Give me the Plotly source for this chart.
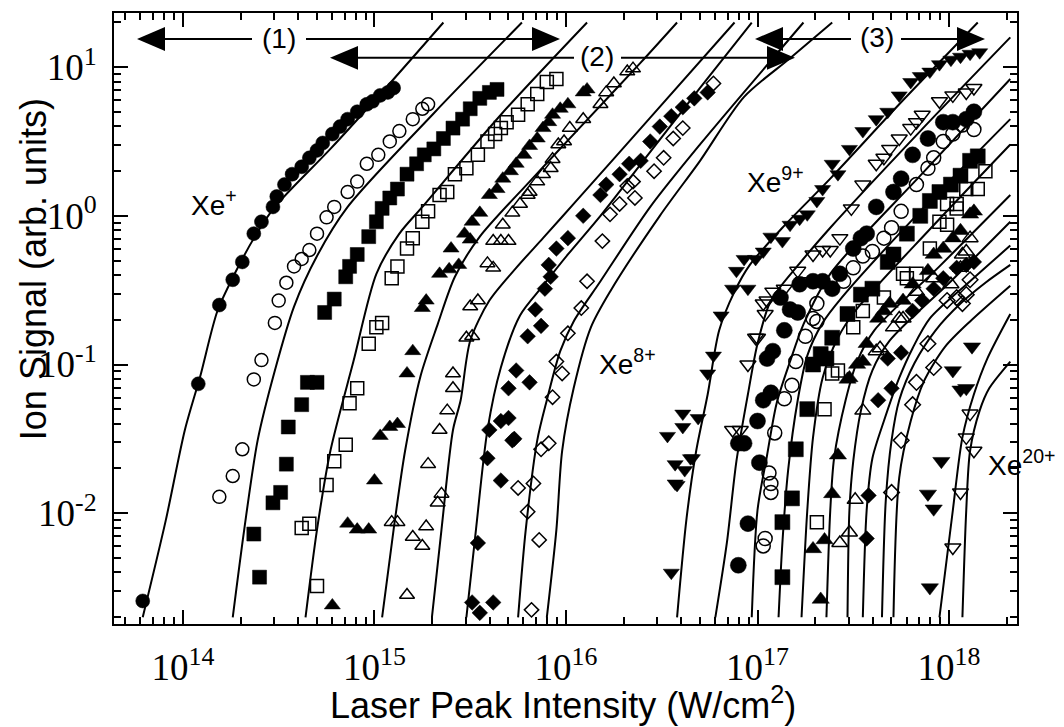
import numpy as np
import plotly.graph_objects as go

# ---------------- measured ion yields ----------------
# values are log10(laser peak intensity / W cm^-2) and log10(ion signal / arb. units)
xe1_logI = [13.79, 14.08, 14.19, 14.26, 14.31, 14.37, 14.41, 14.47, 14.49, 14.53, 14.57, 14.62, 14.66, 14.70, 14.73, 14.78, 14.82, 14.86, 14.91, 14.96, 14.99, 15.03, 15.07, 15.10]
xe1_logS = [-2.59, -1.13, -0.60, -0.43, -0.31, -0.12, -0.04, 0.06, 0.13, 0.21, 0.28, 0.33, 0.39, 0.44, 0.49, 0.55, 0.60, 0.65, 0.70, 0.75, 0.77, 0.81, 0.83, 0.86]

xe2_logI = [14.19, 14.26, 14.31, 14.37, 14.41, 14.48, 14.50, 14.54, 14.58, 14.62, 14.66, 14.70, 14.75, 14.79, 14.86, 14.91, 14.96, 15.02, 15.08, 15.13, 15.20, 15.25, 15.28]
xe2_logS = [-1.89, -1.75, -1.57, -1.10, -0.97, -0.72, -0.57, -0.45, -0.34, -0.29, -0.23, -0.12, -0.01, 0.06, 0.16, 0.23, 0.35, 0.41, 0.50, 0.57, 0.65, 0.72, 0.75]

xe3_logI = [14.40, 14.37, 14.47, 14.51, 14.54, 14.55, 14.62, 14.65, 14.70, 14.74, 14.79, 14.85, 14.87, 14.91, 14.97, 15.01, 15.04, 15.08, 15.12, 15.17, 15.22, 15.26, 15.31, 15.36, 15.41, 15.46, 15.50, 15.55, 15.60, 15.64]
xe3_logS = [-2.43, -2.14, -1.93, -1.86, -1.67, -1.42, -1.27, -1.12, -1.12, -0.65, -0.56, -0.41, -0.34, -0.26, -0.14, -0.04, 0.05, 0.12, 0.18, 0.28, 0.35, 0.41, 0.45, 0.52, 0.59, 0.65, 0.72, 0.79, 0.83, 0.85]

xe4_logI = [14.70, 14.62, 14.66, 14.75, 14.79, 14.85, 14.87, 14.91, 14.97, 15.01, 15.04, 15.09, 15.12, 15.17, 15.20, 15.25, 15.28, 15.34, 15.38, 15.42, 15.48, 15.54, 15.59, 15.63, 15.66, 15.69, 15.75, 15.80, 15.85, 15.90, 15.95]
xe4_logS = [-2.49, -2.10, -2.07, -1.81, -1.65, -1.54, -1.26, -1.16, -0.86, -0.75, -0.72, -0.42, -0.34, -0.22, -0.15, -0.04, 0.03, 0.14, 0.16, 0.28, 0.32, 0.41, 0.50, 0.55, 0.59, 0.63, 0.68, 0.75, 0.82, 0.90, 0.92]

xe5_logI = [14.78, 14.86, 14.91, 14.97, 15.00, 15.03, 15.08, 15.12, 15.17, 15.20, 15.25, 15.27, 15.34, 15.39, 15.44, 15.40, 15.47, 15.50, 15.51, 15.55, 15.60, 15.64, 15.67, 15.71, 15.74, 15.78, 15.81, 15.85, 15.88, 15.91, 15.93, 15.97, 16.01, 16.09, 16.11]
xe5_logS = [-2.62, -2.07, -2.11, -2.11, -1.78, -1.48, -1.42, -1.40, -1.06, -0.91, -0.62, -0.57, -0.39, -0.36, -0.33, -0.22, -0.12, -0.16, -0.04, 0.02, 0.14, 0.18, 0.25, 0.30, 0.35, 0.41, 0.47, 0.52, 0.59, 0.63, 0.68, 0.72, 0.75, 0.83, 0.85]

xe6_logI = [15.17, 15.09, 15.12, 15.20, 15.25, 15.27, 15.28, 15.33, 15.35, 15.34, 15.38, 15.41, 15.41, 15.48, 15.51, 15.50, 15.54, 15.59, 15.62, 15.62, 15.66, 15.70, 15.67, 15.72, 15.76, 15.80, 15.81, 15.85, 15.88, 15.92, 15.93, 15.96, 15.99, 16.02, 16.09, 16.18, 16.21, 16.25, 16.32, 16.35]
xe6_logS = [-2.55, -2.06, -2.06, -2.16, -2.22, -2.09, -1.67, -1.93, -1.87, -1.44, -1.31, -1.16, -1.06, -0.82, -0.81, -0.61, -0.57, -0.32, -0.35, -0.17, -0.17, -0.17, -0.06, 0.02, 0.08, 0.14, 0.16, 0.23, 0.28, 0.32, 0.38, 0.48, 0.50, 0.59, 0.65, 0.75, 0.83, 0.89, 0.97, 0.99]

xe7_logI = [15.51, 15.55, 15.62, 15.54, 15.66, 15.59, 15.72, 15.60, 15.66, 15.70, 15.73, 15.70, 15.74, 15.81, 15.80, 15.87, 15.84, 15.89, 15.92, 15.91, 15.95, 16.01, 16.09, 16.18, 16.21, 16.28, 16.33, 16.39, 16.44, 16.49, 16.55, 16.61, 16.67, 16.74]
xe7_logS = [-2.60, -2.67, -2.60, -2.20, -1.78, -1.63, -1.51, -1.44, -1.38, -1.36, -1.50, -1.16, -1.04, -1.12, -0.81, -0.74, -0.63, -0.49, -0.41, -0.33, -0.22, -0.15, 0.00, 0.14, 0.21, 0.28, 0.35, 0.37, 0.50, 0.60, 0.67, 0.73, 0.79, 0.83]

xe8_logI = [15.82, 15.80, 15.86, 15.83, 15.75, 15.87, 15.91, 15.93, 15.95, 15.98, 16.01, 16.08, 16.11, 16.19, 16.23, 16.28, 16.32, 16.35, 16.36, 16.46, 16.51, 16.56, 16.61, 16.77]
xe8_logS = [-2.65, -1.99, -2.18, -1.80, -1.83, -1.57, -1.53, -1.22, -0.98, -1.06, -0.79, -0.62, -0.44, -0.17, 0.01, 0.08, 0.20, 0.23, 0.12, 0.30, 0.39, 0.52, 0.59, 0.89]

xe9_logI = [16.55, 16.57, 16.62, 16.58, 16.57, 16.66, 16.65, 16.53, 16.61, 16.69, 16.61, 16.74, 16.77, 16.81, 16.87, 16.89, 16.95, 16.93, 16.99, 17.03, 17.07, 17.13, 17.17, 17.22, 17.26, 17.31, 17.34, 17.42, 17.39, 17.48, 17.55, 17.62, 17.68, 17.74, 17.80, 17.85, 17.90, 17.95, 18.01, 18.06, 18.11, 18.16]
xe9_logS = [-2.40, -1.80, -1.71, -1.81, -1.67, -1.63, -1.63, -1.48, -1.42, -1.36, -1.33, -1.06, -0.94, -0.67, -0.49, -0.37, -0.49, -0.29, -0.29, -0.24, -0.14, -0.17, -0.06, -0.02, 0.01, 0.10, 0.18, 0.28, 0.35, 0.45, 0.57, 0.65, 0.70, 0.81, 0.90, 0.94, 0.97, 1.02, 1.05, 1.07, 1.09, 1.10]

xe10_logI = [16.87, 16.91, 16.95, 16.99, 17.00, 17.03, 17.05, 17.04, 17.08, 17.14, 17.21, 17.24, 17.29, 17.34, 17.38, 17.43, 17.49, 17.55, 17.62, 17.66, 17.69, 17.74, 17.80, 17.83, 17.86, 17.95, 18.02, 18.09, 18.13]
xe10_logS = [-1.44, -1.44, -1.00, -0.82, -0.82, -0.59, -0.57, -0.66, -0.51, -0.49, -0.37, -0.44, -0.26, -0.23, -0.23, -0.15, 0.05, 0.21, 0.35, 0.39, 0.45, 0.52, 0.59, 0.63, 0.68, 0.77, 0.81, 0.83, 0.86]

xe11_logI = [16.90, 16.95, 16.90, 16.93, 17.01, 17.00, 17.03, 17.07, 17.05, 17.08, 17.14, 17.21, 17.12, 17.17, 17.22, 17.29, 17.34, 17.39, 17.43, 17.50, 17.54, 17.57, 17.62, 17.71, 17.75, 17.81, 17.89, 17.97, 18.02, 18.09, 18.13]
xe11_logS = [-2.35, -2.07, -1.53, -1.53, -1.66, -1.38, -1.24, -1.19, -0.96, -0.91, -0.77, -0.65, -0.55, -0.63, -0.46, -0.44, -0.44, -0.49, -0.39, -0.22, -0.15, -0.12, 0.06, 0.16, 0.25, 0.41, 0.52, 0.63, 0.63, 0.65, 0.70]

xe12_logI = [17.03, 17.04, 17.07, 17.07, 17.06, 17.09, 17.14, 17.18, 17.20, 17.25, 17.31, 17.29, 17.31, 17.45, 17.50, 17.55, 17.60, 17.66, 17.70, 17.75, 17.83, 17.89, 17.92, 17.97, 18.02, 18.07, 18.13]
xe12_logS = [-2.22, -2.17, -1.86, -1.80, -1.73, -1.46, -1.23, -1.14, -0.98, -0.81, -0.71, -0.69, -0.59, -0.44, -0.35, -0.27, -0.24, -0.15, -0.08, 0.03, 0.21, 0.32, 0.39, 0.50, 0.55, 0.61, 0.58]

xe13_logI = [17.13, 17.13, 17.18, 17.20, 17.26, 17.29, 17.33, 17.36, 17.39, 17.47, 17.54, 17.60, 17.68, 17.71, 17.78, 17.85, 17.90, 17.95, 18.01, 18.06, 18.11, 18.15]
xe13_logS = [-2.43, -2.06, -1.90, -1.57, -1.30, -1.00, -0.93, -0.96, -0.82, -0.66, -0.53, -0.49, -0.31, -0.26, -0.12, 0.00, 0.10, 0.16, 0.21, 0.27, 0.37, 0.40]

xe14_logI = [17.31, 17.35, 17.39, 17.42, 17.50, 17.55, 17.66, 17.76, 17.78, 17.83, 17.90, 17.95, 17.99, 17.99, 18.04, 18.04, 18.09, 18.15, 18.19]
xe14_logS = [-2.06, -1.30, -1.06, -1.04, -0.75, -0.64, -0.55, -0.39, -0.42, -0.39, -0.22, -0.04, -0.06, 0.08, 0.05, 0.08, 0.18, 0.18, 0.30]

xe15_logI = [17.33, 17.29, 17.35, 17.39, 17.42, 17.47, 17.48, 17.52, 17.55, 17.57, 17.63, 17.66, 17.69, 17.76, 17.81, 17.89, 17.92, 17.97, 18.02, 18.06, 18.11, 18.13]
xe15_logS = [-2.58, -2.24, -2.18, -1.87, -1.61, -1.10, -1.09, -1.00, -0.98, -0.86, -0.69, -0.64, -0.59, -0.57, -0.46, -0.37, -0.26, -0.22, -0.15, -0.10, 0.01, 0.03]

xe16_logI = [17.43, 17.48, 17.51, 17.55, 17.62, 17.64, 17.71, 17.74, 17.76, 17.83, 17.92, 18.01, 18.06, 18.09, 18.07, 18.11]
xe16_logS = [-2.20, -2.13, -1.91, -1.31, -0.91, -0.89, -0.75, -0.69, -0.69, -0.51, -0.42, -0.46, -0.35, -0.24, -0.26, -0.15]

xe17_logI = [17.57, 17.58, 17.63, 17.70, 17.68, 17.75, 17.81, 17.86, 17.92, 17.97, 18.04, 18.09, 18.13]
xe17_logS = [-2.17, -1.88, -1.24, -1.16, -0.96, -0.92, -0.64, -0.57, -0.49, -0.42, -0.35, -0.33, -0.31]

xe18_logI = [17.70, 17.75, 17.81, 17.83, 17.89, 17.92, 17.99, 18.04, 18.07, 18.09, 18.11]
xe18_logS = [-1.86, -1.51, -1.27, -1.12, -0.86, -1.02, -0.57, -0.55, -0.59, -0.53, -0.43]

xe19_logI = [18.12, 18.02, 18.06, 18.09, 17.96, 17.89, 17.92, 17.90]
xe19_logS = [-0.88, -1.04, -1.17, -1.16, -1.65, -1.87, -1.97, -2.50]

xe20_logI = [18.11, 18.09, 18.13, 18.06, 18.02]
xe20_logS = [-1.33, -1.49, -1.58, -1.86, -2.23]

# ---------------- calculated curves ----------------
th1_logI = [13.79, 13.91, 14.01, 14.09, 14.18, 14.27, 14.38, 14.48, 14.77, 15.08, 15.36]
th1_logS = [-2.70, -2.05, -1.44, -1.08, -0.64, -0.39, -0.13, 0.06, 0.45, 0.89, 1.30]
th2_logI = [14.26, 14.32, 14.39, 14.48, 14.58, 14.70, 14.86, 15.31, 15.77]
th2_logS = [-2.70, -2.11, -1.51, -1.04, -0.61, -0.27, 0.06, 0.69, 1.30]
th3_logI = [14.64, 14.70, 14.77, 14.89, 15.01, 15.13, 15.25, 15.66, 16.11]
th3_logS = [-2.70, -2.11, -1.58, -0.98, -0.39, -0.12, 0.06, 0.68, 1.30]
th4_logI = [15.04, 15.10, 15.16, 15.24, 15.33, 15.42, 15.55, 15.81, 16.07, 16.39, 16.58]
th4_logS = [-2.70, -2.11, -1.58, -1.08, -0.73, -0.41, -0.14, 0.23, 0.59, 1.03, 1.30]
th5_logI = [15.30, 15.35, 15.41, 15.45, 15.50, 15.60, 15.74, 15.88, 16.04, 16.44, 16.88]
th5_logS = [-2.70, -2.11, -1.44, -1.24, -0.84, -0.57, -0.35, -0.15, 0.08, 0.66, 1.30]
th6_logI = [15.48, 15.53, 15.59, 15.66, 15.76, 15.88, 16.01, 16.18, 16.44, 16.70, 16.97]
th6_logS = [-2.70, -2.11, -1.44, -1.02, -0.67, -0.47, -0.26, 0.00, 0.43, 0.86, 1.30]
th7_logI = [15.75, 15.79, 15.85, 15.90, 15.97, 16.04, 16.18, 16.44, 16.70, 17.24]
th7_logS = [-2.70, -2.11, -1.51, -1.24, -0.91, -0.71, -0.44, 0.06, 0.48, 1.30]
th8_logI = [15.90, 15.95, 15.98, 16.04, 16.13, 16.23, 16.49, 16.70, 16.93, 17.17, 17.39]
th8_logS = [-2.70, -2.11, -1.58, -1.16, -0.75, -0.51, 0.00, 0.37, 0.80, 1.06, 1.30]
th9_logI = [16.58, 16.63, 16.68, 16.74, 16.80, 16.88, 16.96, 17.13, 17.38, 17.74, 18.15]
th9_logS = [-2.70, -2.03, -1.58, -1.20, -0.77, -0.51, -0.33, -0.08, 0.25, 0.75, 1.30]
th10_logI = [16.78, 16.84, 16.89, 16.95, 17.00, 17.07, 17.22, 17.38, 17.85, 18.32]
th10_logS = [-2.70, -2.20, -1.65, -1.20, -0.86, -0.57, -0.32, -0.08, 0.57, 1.20]
th11_logI = [16.97, 17.00, 17.05, 17.10, 17.17, 17.24, 17.38, 17.85, 18.32]
th11_logS = [-2.70, -1.98, -1.61, -1.26, -0.98, -0.73, -0.39, 0.27, 0.92]
th12_logI = [17.11, 17.13, 17.16, 17.21, 17.26, 17.34, 17.44, 17.85, 18.32]
th12_logS = [-2.70, -2.20, -1.71, -1.24, -0.94, -0.72, -0.55, 0.03, 0.65]
th13_logI = [17.23, 17.26, 17.29, 17.34, 17.42, 17.51, 17.90, 18.32]
th13_logS = [-2.70, -1.98, -1.49, -1.09, -0.82, -0.64, -0.09, 0.48]
th14_logI = [17.36, 17.38, 17.40, 17.46, 17.52, 17.61, 17.95, 18.32]
th14_logS = [-2.70, -1.98, -1.63, -1.24, -0.98, -0.77, -0.34, 0.14]
th15_logI = [17.47, 17.48, 17.50, 17.54, 17.60, 17.69, 18.01, 18.32]
th15_logS = [-2.70, -1.98, -1.65, -1.31, -1.04, -0.84, -0.44, -0.04]
th16_logI = [17.55, 17.57, 17.60, 17.66, 17.74, 17.81, 17.90, 18.11, 18.32]
th16_logS = [-2.70, -1.98, -1.63, -1.38, -1.09, -0.89, -0.69, -0.44, -0.20]
th17_logI = [17.65, 17.67, 17.70, 17.74, 17.82, 17.93, 18.06, 18.19, 18.32]
th17_logS = [-2.70, -1.91, -1.51, -1.24, -0.99, -0.77, -0.59, -0.45, -0.33]
th18_logI = [17.71, 17.74, 17.80, 17.87, 17.98, 18.11, 18.32]
th18_logS = [-2.70, -1.76, -1.38, -1.11, -0.88, -0.71, -0.47]
th19_logI = [17.95, 18.02, 18.07, 18.13, 18.20, 18.32]
th19_logS = [-2.70, -1.98, -1.49, -1.20, -0.96, -0.66]
th20_logI = [18.07, 18.09, 18.11, 18.16, 18.21, 18.32]
th20_logS = [-2.70, -1.98, -1.58, -1.31, -1.16, -0.98]

x_tick_exp = [14, 15, 16, 17, 18]
y_tick_exp = [-2, -1, 0, 1]

measured = [
    (xe1_logI, xe1_logS, 'circle', 14), (xe2_logI, xe2_logS, 'circle-open', 13),
    (xe3_logI, xe3_logS, 'square', 14), (xe4_logI, xe4_logS, 'square-open', 13),
    (xe5_logI, xe5_logS, 'triangle-up', 14), (xe6_logI, xe6_logS, 'triangle-up-open', 13),
    (xe7_logI, xe7_logS, 'diamond', 12), (xe8_logI, xe8_logS, 'diamond-open', 11),
    (xe9_logI, xe9_logS, 'triangle-down', 14), (xe10_logI, xe10_logS, 'triangle-down-open', 14),
    (xe11_logI, xe11_logS, 'circle', 16), (xe12_logI, xe12_logS, 'circle-open', 14),
    (xe13_logI, xe13_logS, 'square', 15), (xe14_logI, xe14_logS, 'square-open', 13),
    (xe15_logI, xe15_logS, 'triangle-up', 15), (xe16_logI, xe16_logS, 'triangle-up-open', 14),
    (xe17_logI, xe17_logS, 'diamond', 12), (xe18_logI, xe18_logS, 'diamond-open', 12),
    (xe19_logI, xe19_logS, 'triangle-down', 15), (xe20_logI, xe20_logS, 'triangle-down-open', 14),
]
theory = [
    (th1_logI, th1_logS), (th2_logI, th2_logS), (th3_logI, th3_logS), (th4_logI, th4_logS),
    (th5_logI, th5_logS), (th6_logI, th6_logS), (th7_logI, th7_logS), (th8_logI, th8_logS),
    (th9_logI, th9_logS), (th10_logI, th10_logS), (th11_logI, th11_logS), (th12_logI, th12_logS),
    (th13_logI, th13_logS), (th14_logI, th14_logS), (th15_logI, th15_logS), (th16_logI, th16_logS),
    (th17_logI, th17_logS), (th18_logI, th18_logS), (th19_logI, th19_logS), (th20_logI, th20_logS),
]

fig = go.Figure()
for lx, ly in theory:
    fig.add_trace(go.Scatter(x=10 ** np.array(lx), y=10 ** np.array(ly), mode='lines',
                             line=dict(color='black', width=2, shape='spline', smoothing=0.8),
                             hoverinfo='skip', showlegend=False))
for lx, ly, sym, sz in measured:
    open_sym = sym.endswith('-open')
    fig.add_trace(go.Scatter(x=10 ** np.array(lx), y=10 ** np.array(ly), mode='markers',
                             marker=dict(symbol=sym, size=sz, color='black',
                                         line=dict(color='black', width=1.5 if open_sym else 0.5)),
                             showlegend=False))

# plot-area geometry (pixels) used for decorations
L, R, T, B = 114, 1017, 11, 624
def px(x):
    return (x - L) / (R - L)
def py(y):
    return (B - y) / (B - T)

shapes = []
annotations = []
def arrow_head(tip_x, base_x, y):
    return dict(type='path', xref='paper', yref='paper', line=dict(width=0), fillcolor='black',
                path=f"M {px(tip_x)},{py(y)} L {px(base_x)},{py(y-12)} L {px(base_x)},{py(y+12)} Z")
def hline(x0, x1, y):
    return dict(type='line', xref='paper', yref='paper', x0=px(x0), x1=px(x1), y0=py(y), y1=py(y),
                line=dict(color='black', width=2))

# (1)
shapes += [arrow_head(137, 165, 37), hline(160, 252, 37), hline(306, 535, 37), arrow_head(560, 532, 37)]
# (2)
shapes += [arrow_head(330, 358, 56), hline(353, 574, 56), hline(621, 770, 56), arrow_head(795, 767, 56)]
# (3)
shapes += [arrow_head(755, 783, 37), hline(778, 851, 37), hline(901, 960, 37), arrow_head(985, 957, 37)]

lab_font = dict(family='Liberation Sans, Arial, sans-serif', size=28, color='black')
for txt, x, y in [('(1)', 279, 37), ('(2)', 597, 55), ('(3)', 877, 36),
                  ('Xe<sup>+</sup>', 214, 202), ('Xe<sup>8+</sup>', 627, 361),
                  ('Xe<sup>9+</sup>', 775, 179), ('Xe<sup>20+</sup>', 1022, 462)]:
    annotations.append(dict(text=txt, x=px(x), y=py(y), xref='paper', yref='paper',
                            showarrow=False, xanchor='center', yanchor='middle', font=lab_font))

title_font = dict(family='Liberation Sans, Arial, sans-serif', size=36, color='black')
annotations.append(dict(text='Laser Peak Intensity (W/cm<sup>2</sup>)', x=px(563), y=py(703),
                        xref='paper', yref='paper', showarrow=False, xanchor='center',
                        yanchor='middle', font=title_font))
annotations.append(dict(text='Ion Signal (arb. units)', x=px(33), y=py(268), textangle=-90,
                        xref='paper', yref='paper', showarrow=False, xanchor='center',
                        yanchor='middle', font=title_font))

tick_font = dict(family='Liberation Serif', size=37, color='black')
x_minor = [m * 10.0 ** e for e in range(13, 19) for m in range(2, 10)]
y_minor = [m * 10.0 ** e for e in range(-3, 2) for m in range(2, 10)]

fig.update_layout(
    width=1064, height=727,
    margin=dict(l=L, r=1064 - R, t=T, b=727 - B),
    paper_bgcolor='white', plot_bgcolor='white',
    shapes=shapes, annotations=annotations, showlegend=False,
    xaxis=dict(type='log', range=[13.640, 18.355],
               tickmode='array', tickvals=[10.0 ** e for e in x_tick_exp],
               ticktext=[f'10<sup>{e}</sup>' for e in x_tick_exp],
               ticks='inside', ticklen=14, tickwidth=2, tickcolor='black',
               showline=True, linewidth=2, linecolor='black', mirror='ticks',
               showgrid=False, zeroline=False, tickfont=tick_font, ticklabelstandoff=10,
               minor=dict(tickmode='array', tickvals=x_minor, ticks='inside', ticklen=7,
                          tickwidth=1.5, tickcolor='black', showgrid=False)),
    yaxis=dict(type='log', range=[-2.745, 1.364],
               tickmode='array', tickvals=[10.0 ** e for e in y_tick_exp],
               ticktext=[f'10<sup>{e}</sup>' for e in y_tick_exp],
               ticks='inside', ticklen=14, tickwidth=2, tickcolor='black',
               showline=True, linewidth=2, linecolor='black', mirror='ticks',
               showgrid=False, zeroline=False, tickfont=tick_font, ticklabelstandoff=8,
               minor=dict(tickmode='array', tickvals=y_minor, ticks='inside', ticklen=7,
                          tickwidth=1.5, tickcolor='black', showgrid=False)),
)

fig.write_html("out.html")
